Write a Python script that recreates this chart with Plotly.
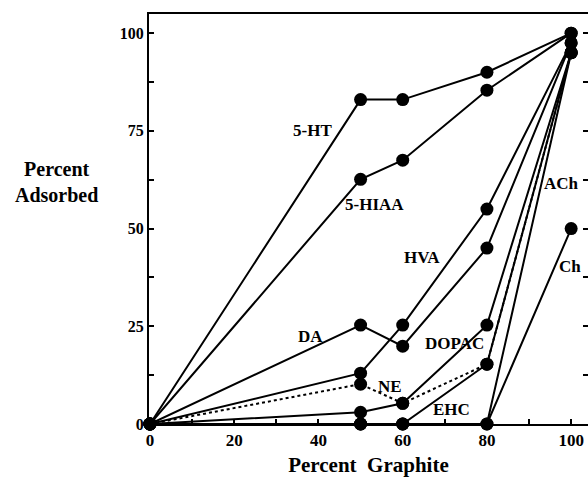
import plotly.graph_objects as go

# ---- data ----
graphite = [0, 50, 60, 80, 100]
ht5 = [0, 83, 83, 90, 100]
hiaa5 = [0, 62.6, 67.5, 85.4, 100]
hva = [0, 13, 25.3, 55, 97.5]
da = [0, 25.3, 19.9, 45, 97.5]
dopac = [0, 3, 5.3, 25.3, 95]
ne = [0, 10.2, 5.3, 15.3, 95]
ehc = [0, 0, 0, 15.3, 95]
ach = [0, 0, 0, 0, 95]
ch = [0, 0, 0, 0, 50]

series_names = ["5-HT", "5-HIAA", "HVA", "DA", "DOPAC", "NE", "EHC", "ACh", "Ch"]
series_values = [ht5, hiaa5, hva, da, dopac, ne, ehc, ach, ch]
series_dash = ["solid", "solid", "solid", "solid", "solid", "dot", "solid", "solid", "solid"]

label_x = [38.5, 53.4, 64.6, 38.0, 72.2, 57.0, 71.7, 97.8, 99.7]
label_y = [75.2, 56.2, 42.5, 22.5, 20.7, 9.5, 3.8, 61.6, 40.4]

x_tickvals = [0, 10, 20, 30, 40, 50, 60, 70, 80, 90, 100]
x_ticktext = ["<b>0</b>", "", "<b>20</b>", "", "<b>40</b>", "", "<b>60</b>", "",
              "<b>80</b>", "", "<b>100</b>"]
y_tickvals = [0, 12.5, 25, 37.5, 50, 62.5, 75, 87.5, 100]
y_ticktext = ["<b>0</b>", "", "<b>25</b>", "", "<b>50</b>", "", "<b>75</b>", "",
              "<b>100</b>"]

FONT = "Liberation Serif"

fig = go.Figure()
for name, vals, dash in zip(series_names, series_values, series_dash):
    fig.add_trace(go.Scatter(
        x=graphite, y=vals, mode="lines+markers", name=name,
        line=dict(color="black", width=2, dash=dash),
        marker=dict(color="black", size=13),
        showlegend=False, cliponaxis=False,
    ))

# invisible trace for the right axis ticks
fig.add_trace(go.Scatter(x=[None], y=[None], yaxis="y2", showlegend=False,
                         hoverinfo="skip"))

for name, lx, ly in zip(series_names, label_x, label_y):
    fig.add_annotation(x=lx, y=ly, text="<b>%s</b>" % name, showarrow=False,
                       font=dict(family=FONT, size=17, color="black"),
                       xanchor="center", yanchor="middle")

fig.add_annotation(xref="paper", yref="paper", x=-0.21, y=0.59,
                   text="<b>Percent<br>Adsorbed</b>", showarrow=False,
                   font=dict(family=FONT, size=20, color="black"),
                   xanchor="center", yanchor="middle", align="center")

fig.update_layout(
    width=588, height=483,
    margin=dict(l=149, r=0, t=14, b=59),
    paper_bgcolor="white", plot_bgcolor="white",
    font=dict(family=FONT, color="black"),
    xaxis=dict(
        range=[-0.24, 104], showgrid=False, zeroline=False,
        showline=True, linecolor="black", linewidth=2, mirror=True,
        ticks="inside", ticklen=5, tickwidth=1.5, tickcolor="black",
        tickvals=x_tickvals, ticktext=x_ticktext,
        tickfont=dict(family=FONT, size=17, color="black"),
        title=dict(text="<b>Percent  Graphite</b>",
                   font=dict(family=FONT, size=21, color="black"), standoff=8),
    ),
    yaxis=dict(
        range=[0, 104.9], showgrid=False, zeroline=False,
        showline=True, linecolor="black", linewidth=2,
        ticks="inside", ticklen=5, tickwidth=1.5, tickcolor="black",
        tickvals=y_tickvals, ticktext=y_ticktext,
        tickfont=dict(family=FONT, size=16, color="black"),
    ),
    yaxis2=dict(
        range=[0, 104.9], overlaying="y", side="right", showgrid=False,
        zeroline=False, showline=False,
        ticks="inside", ticklen=5, tickwidth=1.5, tickcolor="black",
        tickvals=y_tickvals, showticklabels=False,
    ),
)

fig.write_html("out.html")
